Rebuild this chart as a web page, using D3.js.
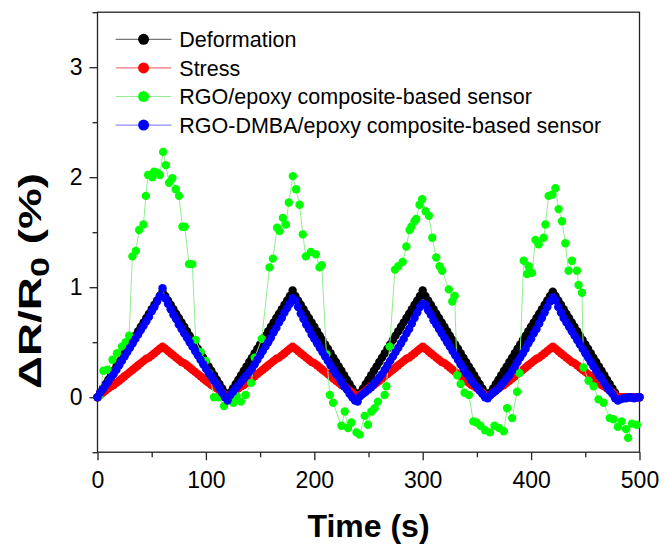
<!DOCTYPE html>
<html>
<head>
<meta charset="utf-8">
<style>
body { margin: 0; background: #fff; }
svg { font-family: "Liberation Sans", Arial, sans-serif; }
.axis text { font-size: 23px; fill: #000; }
.axis line { stroke: #222; stroke-width: 1.3; }
.frame { fill: none; stroke: #222; stroke-width: 1.3; }
.title { font-weight: bold; font-size: 32px; }
.legend text { font-size: 21.5px; }
</style>
</head>
<body>
<svg width="664" height="544"></svg>
<script src="https://d3js.org/d3.v7.min.js"></script>
<script>

// sample times (s) shared by deformation, stress and RGO-DMBA curves
var time = [
  0,2.5,5,7.5,10,12.5,15,17.5,20,22.5,25,27.5,30,32.5,35,37.5,40,42.5,45,47.5,
  50,52.5,55,57.5,60,62.5,65,67.5,70,72.5,75,77.5,80,82.5,85,87.5,90,92.5,95,97.5,
  100,102.5,105,107.5,110,112.5,115,117.5,120,122.5,125,127.5,130,132.5,135,137.5,140,142.5,145,147.5,
  150,152.5,155,157.5,160,162.5,165,167.5,170,172.5,175,177.5,180,182.5,185,187.5,190,192.5,195,197.5,
  200,202.5,205,207.5,210,212.5,215,217.5,220,222.5,225,227.5,230,232.5,235,237.5,240,242.5,245,247.5,
  250,252.5,255,257.5,260,262.5,265,267.5,270,272.5,275,277.5,280,282.5,285,287.5,290,292.5,295,297.5,
  300,302.5,305,307.5,310,312.5,315,317.5,320,322.5,325,327.5,330,332.5,335,337.5,340,342.5,345,347.5,
  350,352.5,355,357.5,360,362.5,365,367.5,370,372.5,375,377.5,380,382.5,385,387.5,390,392.5,395,397.5,
  400,402.5,405,407.5,410,412.5,415,417.5,420,422.5,425,427.5,430,432.5,435,437.5,440,442.5,445,447.5,
  450,452.5,455,457.5,460,462.5,465,467.5,470,472.5,475,477.5,480,482.5,485,487.5,490,492.5,495,497.5,
  500
];

var deformation = [
  0,.04,.08,.12,.16,.2,.24,.28,.32,.36,.4,.44,.48,.52,.56,.6,.64,.68,.72,.76,.8,.84,.88,.92,.96,
  .92,.88,.84,.8,.76,.72,.68,.64,.6,.56,.52,.48,.44,.4,.36,.32,.28,.24,.2,.16,.12,.08,.04,
  0,.04,.08,.12,.16,.2,.24,.28,.32,.36,.4,.44,.48,.52,.56,.6,.64,.68,.72,.76,.8,.84,.88,.92,.97,
  .92,.88,.84,.8,.76,.72,.68,.64,.6,.56,.52,.48,.44,.4,.36,.32,.28,.24,.2,.16,.12,.08,.04,
  0,.04,.08,.12,.16,.2,.24,.28,.32,.36,.4,.44,.48,.52,.56,.6,.64,.68,.72,.76,.8,.84,.88,.92,.97,
  .92,.88,.84,.8,.76,.72,.68,.64,.6,.56,.52,.48,.44,.4,.36,.32,.28,.24,.2,.16,.12,.08,.04,
  0,.04,.08,.12,.16,.2,.24,.28,.32,.36,.4,.44,.48,.52,.56,.6,.64,.68,.72,.76,.8,.84,.88,.92,.96,
  .92,.88,.84,.8,.76,.72,.68,.64,.6,.56,.52,.48,.44,.4,.36,.32,.28,.24,.2,.16,.12,.08,.04,
  0,0,0,0,0,0,0,0,0
];

var stress = [
  0,.02,.04,.06,.08,.1,.11,.13,.15,.17,.19,.21,.23,.25,.27,.29,.31,.33,.35,.36,.38,.4,.42,.44,.46,
  .44,.42,.4,.38,.36,.34,.32,.31,.29,.27,.25,.23,.21,.19,.17,.15,.13,.11,.1,.08,.06,.04,.02,
  0,.02,.04,.06,.08,.1,.11,.13,.15,.17,.19,.21,.23,.25,.27,.29,.31,.33,.35,.36,.38,.4,.42,.44,.46,
  .44,.42,.4,.38,.36,.34,.32,.31,.29,.27,.25,.23,.21,.19,.17,.15,.13,.11,.1,.08,.06,.04,.02,
  0,.02,.04,.06,.08,.1,.11,.13,.15,.17,.19,.21,.23,.25,.27,.29,.31,.33,.35,.36,.38,.4,.42,.44,.46,
  .44,.42,.4,.38,.36,.34,.32,.31,.29,.27,.25,.23,.21,.19,.17,.15,.13,.11,.1,.08,.06,.04,.02,
  0,.02,.04,.06,.08,.1,.11,.13,.15,.17,.19,.21,.23,.25,.27,.29,.31,.33,.35,.36,.38,.4,.42,.44,.46,
  .44,.42,.4,.38,.36,.34,.32,.31,.29,.27,.25,.23,.21,.19,.17,.15,.13,.11,.1,.08,.06,.04,.02,
  0,0,0,0,0,0,0,0,0
];

var rgoDmba = [
  0,.04,.07,.11,.14,.18,.21,.25,.29,.33,.37,.41,.45,.49,.53,.57,.61,.65,.69,.73,.78,.82,.87,.92,.99,
  .9,.85,.8,.75,.71,.66,.62,.58,.54,.5,.46,.42,.38,.34,.3,.26,.22,.19,.15,.12,.08,.04,0,
  -.03,.02,.05,.08,.11,.14,.17,.2,.23,.26,.3,.34,.38,.42,.46,.5,.54,.59,.63,.68,.72,.77,.81,.85,.9,
  .88,.82,.76,.71,.66,.62,.57,.53,.49,.45,.41,.37,.33,.29,.25,.21,.18,.14,.1,.07,.03,0,-.03,
  -.04,.01,.03,.05,.07,.09,.12,.15,.18,.21,.25,.29,.33,.37,.41,.45,.49,.53,.58,.62,.67,.72,.77,.82,.85,
  .84,.79,.75,.7,.66,.62,.58,.54,.5,.46,.42,.38,.34,.3,.26,.22,.19,.15,.12,.09,.06,.03,0,
  -.01,.02,.04,.06,.08,.11,.14,.17,.2,.24,.28,.32,.36,.4,.44,.49,.53,.58,.62,.67,.72,.77,.82,.87,.91,
  .88,.82,.77,.72,.68,.64,.6,.56,.52,.48,.44,.4,.36,.32,.28,.24,.2,.17,.13,.09,.06,.03,-.01,
  -.03,-.02,-.01,-.01,0,0,-.01,0,0
];

// RGO/epoxy sensor has its own sample times
var rgoTime = [
  1.6,5.5,9.2,13.8,18,22.5,26,29.2,32.2,35.4,38.4,42.4,44.6,46.7,50.6,52.2,55,57.5,60.5,63,
  66,69.1,72.2,75.2,78.3,80.5,84.4,87.5,90.6,95.2,99.8,102.9,107.5,112,116.7,122.2,125.3,128.4,132.3,136.5,
  141.8,145,151.5,158.7,161.8,165.7,168,171,173.8,176.5,180.2,183.2,186.4,189.4,192.2,196.8,201.4,204.8,206.9,211.2,
  214.3,217.3,225,228.1,231.1,234.2,238.9,241.9,246.5,249.5,252.7,255.7,258.7,264.9,266.5,269.5,274.4,277.5,281.5,284.9,
  287.9,289.5,292.5,294,297.1,299.5,302.7,305.7,308.8,312.5,315.6,318,324.1,327.3,329.5,331.8,335,338.6,342.6,346.7,
  349.6,353.3,357.5,362,366.2,370.5,374.8,377.9,382.5,387.1,389.2,393.2,396.3,397.8,400.9,404,407,411.6,413.2,416.2,
  419.3,422.4,425.4,428.5,431.6,434.6,437.7,442.3,443.8,446.9,448.4,453,457.6,462.2,466.9,472.5,476,480,483.5,487.5,
  489.5,493,497.5
];
var rgo = [
  .01,.24,.25,.34,.4,.46,.5,.56,1.28,1.33,1.52,1.57,1.83,2.02,2,2.05,2.04,2.02,2.23,2.11,
  1.95,1.99,1.89,1.83,1.55,1.55,1.21,1.21,.52,.41,.33,.22,0,0,-.08,-.02,-.05,.01,-.04,.02,
  .13,.36,.53,1.18,1.26,1.54,1.51,1.63,1.57,1.77,2.01,1.89,1.75,1.48,1.28,1.32,1.3,1.18,1.2,.39,
  .02,-.05,-.26,-.13,-.28,-.23,-.32,-.34,-.17,-.25,-.13,-.1,-.04,.02,.1,.46,1.16,1.19,1.23,1.37,
  1.52,1.55,1.6,1.62,1.75,1.8,1.69,1.65,1.45,1.27,1.19,1.15,.98,.87,.92,.2,.12,.04,.02,-.22,
  -.23,-.26,-.3,-.32,-.26,-.28,-.31,-.1,-.19,.05,.22,1.24,1.12,1.19,1.13,1.43,1.39,1.45,1.57,1.83,
  1.84,1.9,1.71,1.6,1.4,1.15,1.24,1.15,1.02,.95,.27,.15,.1,-.02,-.05,-.19,-.2,-.27,-.22,-.29,
  -.37,-.24,-.25
];

var xTicks = [0, 100, 200, 300, 400, 500];
var xMinor = [50, 150, 250, 350, 450];
var yTicks = [0, 1, 2, 3];
var yMinor = [-0.5, 0.5, 1.5, 2.5, 3.5];

var legendNames = ["Deformation", "Stress", "RGO/epoxy composite-based sensor", "RGO-DMBA/epoxy composite-based sensor"];

var svg = d3.select("svg");
var m = {left: 97.5, right: 639.5, top: 12.2, bottom: 452.2};

var x = d3.scaleLinear().domain([0, 500]).range([m.left, m.right]);
var y = d3.scaleLinear().domain([-0.5, 3.5]).range([m.bottom, m.top]);

// axes
svg.append("g").attr("class", "axis")
  .attr("transform", "translate(0," + m.bottom + ")")
  .call(d3.axisBottom(x).tickValues(xTicks).tickSize(8).tickPadding(11))
  .call(function(g) { g.select(".domain").remove(); });
svg.append("g").attr("class", "axis")
  .attr("transform", "translate(0," + m.bottom + ")")
  .call(d3.axisBottom(x).tickValues(xMinor).tickSize(5).tickFormat(""))
  .call(function(g) { g.select(".domain").remove(); });
svg.append("g").attr("class", "axis")
  .attr("transform", "translate(" + m.left + ",0)")
  .call(d3.axisLeft(y).tickValues(yTicks).tickSize(8).tickPadding(7).tickFormat(d3.format("d")))
  .call(function(g) { g.select(".domain").remove(); });
svg.append("g").attr("class", "axis")
  .attr("transform", "translate(" + m.left + ",0)")
  .call(d3.axisLeft(y).tickValues(yMinor).tickSize(5).tickFormat(""))
  .call(function(g) { g.select(".domain").remove(); });

svg.append("rect").attr("class", "frame")
  .attr("x", m.left).attr("y", m.top)
  .attr("width", m.right - m.left).attr("height", m.bottom - m.top);

// series
var series = [
  {t: time, v: deformation, dot: "#000000", line: "#555555"},
  {t: time, v: stress, dot: "#ff0000", line: "#ff5050"},
  {t: rgoTime, v: rgo, dot: "#00ff00", line: "#90ee90"},
  {t: time, v: rgoDmba, dot: "#0000ff", line: "#7070ff"}
];

var line = d3.line()
  .x(function(d) { return x(d[0]); })
  .y(function(d) { return y(d[1]); });

var plot = svg.append("g");
series.forEach(function(s) {
  var pts = s.t.map(function(t, i) { return [t, s.v[i]]; });
  plot.append("path")
    .attr("d", line(pts))
    .attr("fill", "none")
    .attr("stroke", s.line)
    .attr("stroke-width", 1);
  plot.selectAll(null).data(pts).enter().append("circle")
    .attr("cx", function(d) { return x(d[0]); })
    .attr("cy", function(d) { return y(d[1]); })
    .attr("r", 4.2)
    .attr("fill", s.dot);
});

// legend
var legend = svg.append("g").attr("class", "legend");
legendNames.forEach(function(name, i) {
  var ly = 39.3 + i * 28.6;
  legend.append("line")
    .attr("x1", 115.7).attr("x2", 171.4).attr("y1", ly).attr("y2", ly)
    .attr("stroke", series[i].line).attr("stroke-width", 1);
  legend.append("circle")
    .attr("cx", 143.6).attr("cy", ly).attr("r", 5.5).attr("fill", series[i].dot);
  legend.append("text")
    .attr("x", 179.3).attr("y", ly).attr("dy", "0.36em")
    .text(name);
});

// axis titles
svg.append("text").attr("class", "title")
  .attr("x", (m.left + m.right) / 2).attr("y", 537)
  .attr("text-anchor", "middle")
  .text("Time (s)");

var yt = svg.append("text").attr("class", "title")
  .attr("transform", "translate(41,281) rotate(-90)")
  .attr("text-anchor", "middle")
  .attr("textLength", 216)
  .attr("lengthAdjust", "spacingAndGlyphs");
yt.append("tspan").text("\u0394R/R");
yt.append("tspan").attr("font-size", "25px").attr("dy", 8).text("0");
yt.append("tspan").attr("dy", -8).text(" (%)");

</script>
</body>
</html>
